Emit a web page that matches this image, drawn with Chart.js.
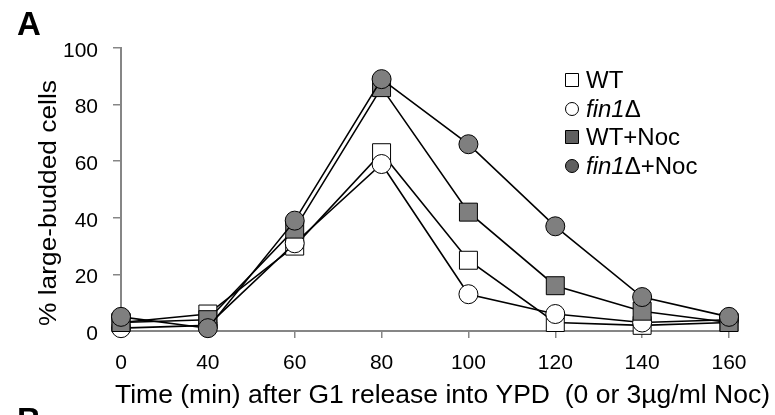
<!DOCTYPE html>
<html>
<head>
<meta charset="utf-8">
<script src="https://cdn.jsdelivr.net/npm/chart.js@4.4.1/dist/chart.umd.min.js"></script>
<style>
  html, body { margin: 0; padding: 0; background: #fff; }
</style>
</head>
<body>
<canvas id="myChart" width="775" height="415"></canvas>
<script>
// time points (min) after G1 release
const timeLabels = ['0', '40', '60', '80', '100', '120', '140', '160']

// % large-budded cells
const wtValues = [3, 6, 30, 63, 25, 3, 2, 3]
const fin1Values = [1, 2, 31, 59, 13, 6, 3, 4]
const wtNocValues = [3, 4, 36, 86, 42, 16, 7, 3]
const fin1NocValues = [5, 1, 39, 89, 66, 37, 12, 5]

const FONT = "'Liberation Sans', Arial, sans-serif"
const GRAY = '#7f7f7f'

// legend rows: marker, fill, text pieces (italic or not)
const legendRows = [
  { style: 'rect', fill: '#fff', parts: [['WT', false]] },
  { style: 'circle', fill: '#fff', parts: [['fin1', true], ['\u0394', false]] },
  { style: 'rect', fill: '#5f5f5f', parts: [['WT+Noc', false]] },
  { style: 'circle', fill: '#5f5f5f', parts: [['fin1', true], ['\u0394+Noc', false]] }
]

// draws text stretched to a given length along its direction
function fitText(ctx, txt, len) {
  const w = ctx.measureText(txt).width
  ctx.save()
  ctx.scale(len / w, 1)
  ctx.fillText(txt, 0, 0)
  ctx.restore()
}

const extras = {
  id: 'extras',
  afterDraw(chart) {
    const ctx = chart.ctx
    ctx.save()
    ctx.fillStyle = '#000'

    // panel letters
    ctx.font = 'bold 33px ' + FONT
    ctx.textBaseline = 'alphabetic'
    ctx.textAlign = 'left'
    ctx.fillText('A', 17, 35)
    ctx.fillText('B', 17, 431)

    // x axis title
    ctx.font = '26px ' + FONT
    ctx.save()
    ctx.translate(115, 403)
    fitText(ctx, 'Time (min) after G1 release into YPD  (0 or 3\u00b5g/ml Noc)', 655)
    ctx.restore()

    // y axis title
    ctx.font = '23px ' + FONT
    ctx.save()
    ctx.translate(56, 326)
    ctx.rotate(-Math.PI / 2)
    fitText(ctx, '% large-budded cells', 246)
    ctx.restore()
    ctx.restore()

    // legend
    ctx.save()
    ctx.textBaseline = 'middle'
    ctx.textAlign = 'left'
    const rowY = [80, 109, 137, 166]
    legendRows.forEach((row, i) => {
      const y = rowY[i]
      ctx.fillStyle = row.fill
      ctx.strokeStyle = '#000'
      ctx.lineWidth = 1
      ctx.beginPath()
      if (row.style === 'rect') ctx.rect(565.5, y - 6.5, 13, 13)
      else ctx.arc(572, y, 6.5, 0, Math.PI * 2)
      ctx.fill()
      ctx.stroke()
      let x = 586
      ctx.fillStyle = '#000'
      row.parts.forEach(([txt, italic]) => {
        ctx.font = (italic ? 'italic ' : '') + '24px ' + FONT
        ctx.fillText(txt, x, y + 1)
        x += ctx.measureText(txt).width
      })
    })
    ctx.restore()
  }
}

function series(label, data, style, fill, order) {
  return {
    label,
    data,
    order,
    borderColor: '#000',
    borderWidth: 1.6,
    pointStyle: style,
    pointRadius: style === 'rect' ? 12.7 : 9.5,
    pointBackgroundColor: fill,
    pointBorderColor: '#000',
    pointBorderWidth: 1,
    tension: 0,
    clip: false
  }
}

new Chart(document.getElementById('myChart'), {
  type: 'line',
  data: {
    labels: timeLabels,
    datasets: [
      series('WT', wtValues, 'rect', '#fff', 4),
      series('fin1\u0394', fin1Values, 'circle', '#fff', 3),
      series('WT+Noc', wtNocValues, 'rect', GRAY, 2),
      series('fin1\u0394+Noc', fin1NocValues, 'circle', GRAY, 1)
    ]
  },
  options: {
    responsive: false,
    animation: false,
    devicePixelRatio: 1,
    layout: { padding: { left: 0, right: 46, top: 48, bottom: 39 } },
    plugins: {
      legend: { display: false },
      tooltip: { enabled: false }
    },
    scales: {
      x: {
        type: 'category',
        offset: false,
        border: { color: '#868686', width: 2 },
        grid: { drawOnChartArea: false, drawTicks: true, tickLength: 7, color: '#868686', lineWidth: 1.5 },
        ticks: { color: '#000', font: { family: FONT, size: 21 }, padding: 13, maxRotation: 0, autoSkip: false },
        afterFit(scale) { scale.height = 45 }
      },
      y: {
        min: 0,
        max: 100,
        border: { color: '#868686', width: 2 },
        grid: { drawOnChartArea: false, drawTicks: true, tickLength: 8, color: '#868686', lineWidth: 1.5 },
        ticks: { stepSize: 20, color: '#000', font: { family: FONT, size: 21 }, padding: 15, labelOffset: 3 },
        afterFit(scale) { scale.width = 121 }
      }
    }
  },
  plugins: [extras]
})
</script>
</body>
</html>
